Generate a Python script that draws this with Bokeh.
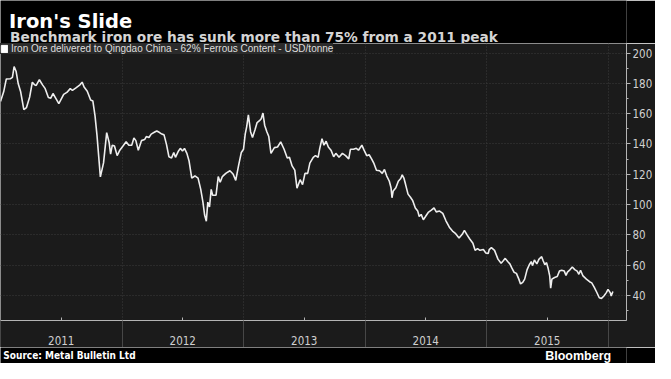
from bokeh.plotting import figure
from bokeh.models import (ColumnDataSource, Range1d, FixedTicker, Legend,
                          LegendItem, Label, SingleIntervalTicker)
from bokeh.layouts import column
from bokeh.embed import file_html
from bokeh.resources import INLINE

# ---------------- data (decimal year, USD/tonne) ----------------
t = [2011.000, 2011.026, 2011.048, 2011.080, 2011.098, 2011.112, 2011.128, 2011.146, 2011.166,
     2011.192, 2011.214, 2011.240, 2011.262, 2011.280, 2011.294, 2011.320, 2011.346, 2011.368,
     2011.394, 2011.414, 2011.432, 2011.454, 2011.480, 2011.520, 2011.546, 2011.574, 2011.592,
     2011.618, 2011.654, 2011.672, 2011.688, 2011.714, 2011.742, 2011.760, 2011.778, 2011.794,
     2011.808, 2011.822, 2011.848, 2011.874, 2011.894, 2011.906, 2011.920, 2011.938, 2011.960,
     2011.982, 2012.008, 2012.034, 2012.056, 2012.080, 2012.098, 2012.114, 2012.134, 2012.160,
     2012.186, 2012.200, 2012.222, 2012.240, 2012.266, 2012.286, 2012.306, 2012.328, 2012.346,
     2012.366, 2012.386, 2012.408, 2012.426, 2012.440, 2012.462, 2012.480, 2012.498, 2012.514,
     2012.534, 2012.552, 2012.574, 2012.594, 2012.600, 2012.626, 2012.648, 2012.666, 2012.680,
     2012.694, 2012.706, 2012.720, 2012.734, 2012.746, 2012.774, 2012.792, 2012.808, 2012.826,
     2012.854, 2012.888, 2012.914, 2012.936, 2012.960, 2012.982, 2013.000, 2013.014, 2013.026,
     2013.040, 2013.058, 2013.074, 2013.094, 2013.112, 2013.134, 2013.146, 2013.160, 2013.174,
     2013.192, 2013.208, 2013.226, 2013.254, 2013.280, 2013.306, 2013.334, 2013.360, 2013.378,
     2013.400, 2013.422, 2013.440, 2013.466, 2013.486, 2013.506, 2013.528, 2013.546, 2013.574,
     2013.592, 2013.614, 2013.626, 2013.646, 2013.662, 2013.680, 2013.698, 2013.720, 2013.742,
     2013.760, 2013.786, 2013.814, 2013.840, 2013.866, 2013.880, 2013.906, 2013.928, 2013.946,
     2013.974, 2013.992, 2014.014, 2014.034, 2014.054, 2014.072, 2014.094, 2014.120, 2014.142,
     2014.160, 2014.178, 2014.200, 2014.214, 2014.222, 2014.232, 2014.254, 2014.274, 2014.294,
     2014.306, 2014.320, 2014.334, 2014.354, 2014.374, 2014.392, 2014.414, 2014.434, 2014.446,
     2014.462, 2014.480, 2014.498, 2014.520, 2014.546, 2014.568, 2014.586, 2014.614, 2014.640,
     2014.666, 2014.694, 2014.720, 2014.746, 2014.774, 2014.800, 2014.818, 2014.840, 2014.862,
     2014.888, 2014.906, 2014.926, 2014.946, 2014.974, 2014.994, 2015.014, 2015.022, 2015.040,
     2015.066, 2015.094, 2015.120, 2015.138, 2015.154, 2015.174, 2015.192, 2015.208, 2015.226,
     2015.246, 2015.266, 2015.280, 2015.298, 2015.314, 2015.334, 2015.352, 2015.368, 2015.378,
     2015.394, 2015.414, 2015.432, 2015.454, 2015.466, 2015.480, 2015.494, 2015.506, 2015.520,
     2015.528, 2015.538, 2015.560, 2015.582, 2015.600, 2015.618, 2015.640, 2015.654, 2015.666,
     2015.688, 2015.706, 2015.726, 2015.746, 2015.760, 2015.774, 2015.794, 2015.822, 2015.848,
     2015.866, 2015.886, 2015.906, 2015.928, 2015.946, 2015.966, 2015.986, 2016.000, 2016.018,
     2016.026, 2016.040]

price = [168.0, 174.4, 182.9, 183.0, 184.0, 191.0, 188.0, 179.7, 174.4,
         162.7, 164.0, 171.0, 180.8, 179.0, 178.6, 182.4, 179.0, 176.5,
         170.6, 170.2, 173.3, 170.2, 166.6, 172.7, 174.0, 176.5, 175.4,
         176.9, 179.0, 180.8, 177.6, 174.8, 169.0, 168.4, 158.5, 145.8,
         132.0, 118.3, 127.5, 147.5, 141.0, 133.3, 139.2, 138.6, 132.3,
         135.9, 138.6, 141.4, 139.2, 139.2, 143.9, 142.2, 135.9, 142.2,
         142.9, 144.9, 144.3, 146.5, 147.7, 148.6, 147.7, 146.5, 146.0,
         139.7, 131.6, 130.8, 134.4, 131.2, 135.0, 137.1, 135.4, 137.1,
         133.8, 128.7, 117.5, 118.5, 119.0, 117.5, 110.0, 101.6, 93.1,
         89.0, 101.6, 98.4, 110.0, 106.2, 106.2, 118.5, 114.7, 118.5,
         120.6, 122.3, 120.2, 116.0, 126.0, 134.4, 136.5, 146.5, 151.3,
         159.2, 148.1, 144.3, 149.2, 154.1, 155.6, 156.6, 160.4, 152.4,
         148.1, 144.9, 133.8, 137.6, 138.0, 141.4, 136.5, 130.8, 131.2,
         125.5, 122.7, 110.8, 116.4, 113.2, 120.6, 120.6, 127.4, 131.2,
         132.3, 131.2, 136.5, 143.5, 139.2, 141.8, 138.0, 135.9, 131.6,
         133.8, 131.2, 133.8, 132.3, 130.2, 136.5, 136.5, 137.1, 135.9,
         139.2, 135.9, 132.3, 132.9, 130.2, 127.4, 122.7, 122.3, 120.6,
         123.2, 119.0, 115.4, 111.1, 104.5, 109.0, 111.1, 115.4, 117.2,
         119.6, 117.5, 113.2, 106.9, 104.8, 102.7, 97.8, 95.7, 92.1,
         93.5, 90.0, 92.1, 94.8, 96.3, 97.8, 95.2, 95.7, 94.2,
         89.3, 85.1, 82.5, 80.8, 77.9, 80.4, 83.0, 80.0, 77.3,
         74.5, 69.8, 70.9, 69.8, 70.3, 68.1, 67.7, 70.3, 71.6,
         69.8, 64.0, 61.3, 62.9, 64.5, 62.4, 60.9, 58.2, 55.4,
         54.6, 50.8, 47.6, 48.7, 50.8, 57.1, 60.3, 62.4, 59.7,
         63.5, 60.9, 64.0, 65.6, 62.9, 60.3, 61.7, 58.2, 52.9,
         44.9, 50.8, 51.9, 52.5, 56.1, 56.7, 56.1, 53.3, 55.4,
         57.1, 58.8, 57.1, 56.1, 54.0, 56.7, 52.9, 50.8, 49.1,
         48.3, 45.5, 42.3, 38.5, 38.1, 39.7, 41.9, 44.0, 41.9,
         39.7, 42.7]

years = [2011, 2012, 2013, 2014, 2015]
year_labels = ["2011", "2012", "2013", "2014", "2015"]

TITLE = "Iron's Slide"
SUBTITLE = "Benchmark iron ore has sunk more than 75% from a 2011 peak"
SERIES = "Iron Ore delivered to Qingdao China - 62% Ferrous Content - USD/tonne"
SOURCE = "Source: Metal Bulletin Ltd"
BRAND = "Bloomberg"

# ---------------- styling ----------------
W = 655
BG = "#1b1b1b"
GRID = "#3d3d3d"
AXIS = "#b4b4b4"
LBL = "#d0d0d0"
NUMFONT = "DejaVu Sans Condensed"

# ---------------- title band ----------------
top = figure(width=W, height=43, x_range=Range1d(0, W), y_range=Range1d(0, 43),
             x_axis_type=None, y_axis_type=None, output_backend="svg", toolbar_location=None,
             min_border=0, background_fill_color="black", border_fill_color="black",
             outline_line_color=None)
top.grid.visible = False
top.add_layout(Label(x=9, y=22.5, text=TITLE, text_font="DejaVu Sans", text_font_style="bold",
                     text_font_size="19.5px", text_color="white", text_baseline="alphabetic"))
top.add_layout(Label(x=10, y=7, text=SUBTITLE, text_font="DejaVu Sans", text_font_style="bold",
                     text_font_size="13.7px", text_color="#d4d4d4", text_baseline="alphabetic"))

# ---------------- main chart ----------------
src = ColumnDataSource(data=dict(t=t, price=price))

p = figure(width=W, height=304, x_range=Range1d(2011.0, 2016.152), y_range=Range1d(23.5, 206.3),
           y_axis_location="right", output_backend="svg", toolbar_location=None,
           background_fill_color=BG, border_fill_color=BG, outline_line_color=None,
           min_border_left=0, min_border_top=0, min_border_bottom=0, min_border_right=0)

bounds = years + [years[-1] + 1]
mids = [y + 0.5 for y in years]

# year labels at mid-year, year separators drawn as long minor ticks
ax = p.xaxis[0]
ax.ticker = FixedTicker(ticks=mids, minor_ticks=bounds)
ax.major_label_overrides = {m: l for m, l in zip(mids, year_labels)}
ax.axis_line_color = AXIS
ax.major_tick_in = 3
ax.major_tick_out = 0
ax.major_tick_line_color = AXIS
ax.minor_tick_in = 0
ax.minor_tick_out = 28
ax.minor_tick_line_color = "#474747"
ax.major_label_standoff = -13
ax.major_label_text_line_height = 1.0
ax.major_label_text_color = LBL
ax.major_label_text_font = NUMFONT
ax.major_label_text_font_size = "11.5px"

yt = SingleIntervalTicker(interval=20, num_minor_ticks=2)
ay = p.yaxis[0]
ay.ticker = yt
ay.axis_line_color = AXIS
ay.major_tick_in = 0
ay.major_tick_out = 4
ay.major_tick_line_color = AXIS
ay.minor_tick_in = 0
ay.minor_tick_out = 2
ay.minor_tick_line_color = AXIS
ay.major_label_standoff = 2
ay.major_label_text_color = LBL
ay.major_label_text_font = NUMFONT
ay.major_label_text_font_size = "11.5px"

p.xgrid.ticker = FixedTicker(ticks=bounds)
p.ygrid.ticker = yt
for g in (p.xgrid, p.ygrid):
    g.grid_line_color = GRID
    g.grid_line_dash = "1 2"
    g.grid_line_width = 1

p.line("t", "price", source=src, line_color="#eeeeee", line_width=1.6)

# legend key: a hidden area-type renderer on the same data (drawn as a filled square)
key = p.vbar(x="t", top="price", width=0.01, source=src,
             fill_color="white", line_color="white", visible=False)
legend = Legend(items=[LegendItem(label=SERIES, renderers=[key])], location="top_left",
                margin=0, padding=4, spacing=0, glyph_width=8, glyph_height=9,
                label_standoff=3, label_height=11,
                label_text_font="Liberation Sans", label_text_font_size="10px",
                label_text_color="#dddddd", background_fill_color="#2b2b2b",
                background_fill_alpha=1, border_line_color=None,
                inactive_fill_alpha=0)
p.add_layout(legend)

# ---------------- footer band ----------------
foot = figure(width=W, height=16, x_range=Range1d(0, W), y_range=Range1d(0, 16),
              x_axis_type=None, y_axis_type=None, output_backend="svg", toolbar_location=None,
              min_border=0, background_fill_color="black", border_fill_color="black",
              outline_line_color=None)
foot.grid.visible = False
foot.add_layout(Label(x=3, y=8, text=SOURCE, text_font=NUMFONT, text_font_style="bold",
                      text_font_size="10px", text_color="white", text_baseline="middle"))
foot.add_layout(Label(x=639, y=8, text=BRAND, text_font="Liberation Sans", text_font_style="bold",
                      text_font_size="12.5px", text_color="white", text_baseline="middle",
                      text_align="right"))

layout = column(top, p, foot, spacing=0)
open("out.html", "w").write(file_html(layout, INLINE))
